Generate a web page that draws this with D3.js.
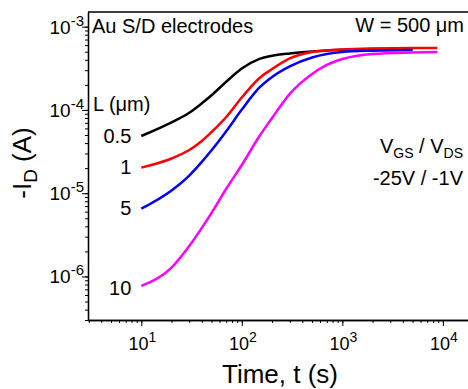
<!DOCTYPE html>
<html>
<head>
<meta charset="utf-8">
<script src="https://cdn.jsdelivr.net/npm/d3@7"></script>
<style>
  body { margin: 0; background: #fff; }
  svg { font-family: Arial, "Liberation Sans", sans-serif; }
</style>
</head>
<body>
<svg id="chart"></svg>
<script>
// time points (s)
const times = [10, 20, 30, 40, 50, 70, 100, 150, 200, 300, 500, 700, 1000, 2000, 5000, 8800];
// -I_D (A) for each channel length L (um)
const L05 = [4.86e-5, 7.08e-5, 9.24e-5, 1.20e-4, 1.50e-4, 2.18e-4, 3.14e-4, 4.10e-4, 4.47e-4, 4.77e-4, 5.04e-4, 5.18e-4, 5.28e-4, 5.40e-4, 5.47e-4];
const L1  = [2.03e-5, 2.61e-5, 3.30e-5, 4.24e-5, 5.43e-5, 8.23e-5, 1.41e-4, 2.42e-4, 3.10e-4, 4.15e-4, 4.97e-4, 5.18e-4, 5.32e-4, 5.47e-4, 5.55e-4, 5.55e-4];
const L5  = [6.52e-6, 1.08e-5, 1.63e-5, 2.38e-5, 3.28e-5, 5.55e-5, 1.01e-4, 1.86e-4, 2.49e-4, 3.34e-4, 4.27e-4, 4.70e-4, 4.97e-4, 5.15e-4, 5.25e-4];
const L10 = [7.69e-7, 1.28e-6, 2.32e-6, 3.83e-6, 5.80e-6, 1.13e-5, 2.18e-5, 4.86e-5, 8.01e-5, 1.56e-4, 2.70e-4, 3.47e-4, 4.09e-4, 4.70e-4, 4.90e-4, 4.97e-4];

const seriesNames = ["0.5", "1", "5", "10"];
const seriesColors = ["#000000", "#ff0000", "#0000ff", "#ff00ff"];
const seriesData = [L05, L1, L5, L10];
const labelShift = [7, 6, 6.5, 9];

const xTicks = [1e1, 1e2, 1e3, 1e4];
const yTicks = [1e-6, 1e-5, 1e-4, 1e-3];

const width = 468, height = 389;
const margin = {top: 12, left: 88, bottom: 69};
const plotRight = 472;

const svg = d3.select("#chart").attr("width", width).attr("height", height);

const x = d3.scaleLog().domain([2.95, 1.95e4]).range([margin.left, plotRight]);
const y = d3.scaleLog().domain([3e-7, 1.5e-3]).range([height - margin.bottom, margin.top]);

// minor tick values
function minors(lo, hi) {
  const out = [];
  for (let e = Math.floor(Math.log10(lo)); e <= Math.ceil(Math.log10(hi)); e++) {
    for (let k = 1; k < 10; k++) {
      const v = k * Math.pow(10, e);
      if (v >= lo && v <= hi) out.push(v);
    }
  }
  return out;
}

const expo = v => {
  const e = Math.round(Math.log10(v));
  return e < 0 ? "-" + (-e) : String(e);
};

// x axis
const xAxisG = svg.append("g").attr("transform", `translate(0,${height - margin.bottom})`);
xAxisG.call(d3.axisBottom(x).tickValues(minors(2.95, 1.95e4)).tickSize(3).tickSizeOuter(0).tickFormat(""));
xAxisG.append("g").call(d3.axisBottom(x).tickValues(xTicks).tickSize(6).tickSizeOuter(0).tickFormat(""));
xAxisG.selectAll("path").attr("stroke-width", 1.3);
xAxisG.selectAll("line").attr("stroke-width", 1);

xTicks.forEach(v => {
  const t = svg.append("text").attr("x", x(v) + 1).attr("y", 350)
    .attr("text-anchor", "middle").attr("font-size", 18).attr("fill", "#000");
  t.append("tspan").text("10");
  t.append("tspan").attr("font-size", 14).attr("dy", -8).text(expo(v));
});

// y axis
const yAxisG = svg.append("g").attr("transform", `translate(${margin.left},0)`);
yAxisG.call(d3.axisLeft(y).tickValues(minors(3e-7, 1.5e-3)).tickSize(3).tickSizeOuter(0).tickFormat(""));
yAxisG.append("g").call(d3.axisLeft(y).tickValues(yTicks).tickSize(6).tickSizeOuter(0).tickFormat(""));
yAxisG.selectAll("path").attr("stroke-width", 1.3);
yAxisG.selectAll("line").attr("stroke-width", 1);

yTicks.forEach(v => {
  const t = svg.append("text").attr("x", 84).attr("y", y(v) + 7)
    .attr("text-anchor", "end").attr("font-size", 19).attr("fill", "#000");
  t.append("tspan").text("10");
  t.append("tspan").attr("font-size", 15).attr("dy", -8).text(expo(v));
});

// top frame
svg.append("line").attr("x1", margin.left).attr("x2", width)
  .attr("y1", margin.top).attr("y2", margin.top)
  .attr("stroke", "#000").attr("stroke-width", 1.3);

// curves
const line = d3.line().x(d => x(d[0])).y(d => y(d[1])).curve(d3.curveMonotoneX);
seriesData.forEach((vals, i) => {
  const pts = vals.map((v, j) => [times[j], v]);
  svg.append("path").datum(pts)
    .attr("d", line)
    .attr("fill", "none")
    .attr("stroke", seriesColors[i])
    .attr("stroke-width", 2.5);
  svg.append("text")
    .attr("x", x(times[0]) - 10).attr("y", y(vals[0]) + labelShift[i])
    .attr("text-anchor", "end").attr("font-size", 20).attr("fill", "#000")
    .text(seriesNames[i]);
});

// annotations
svg.append("text").attr("x", 92).attr("y", 33).attr("font-size", 20).text("Au S/D electrodes");
svg.append("text").attr("x", 464).attr("y", 32).attr("text-anchor", "end").attr("font-size", 20).text("W = 500 μm");
svg.append("text").attr("x", 93).attr("y", 111).attr("font-size", 20).text("L (μm)");

const vt = svg.append("text").attr("x", 463).attr("y", 153).attr("text-anchor", "end").attr("font-size", 20);
vt.append("tspan").text("V");
vt.append("tspan").attr("font-size", 14).attr("dy", 5).text("GS");
vt.append("tspan").attr("dy", -5).text(" / V");
vt.append("tspan").attr("font-size", 14).attr("dy", 5).text("DS");
svg.append("text").attr("x", 463).attr("y", 185).attr("text-anchor", "end").attr("font-size", 20).text("-25V / -1V");

// axis titles
svg.append("text").attr("x", 280).attr("y", 383).attr("text-anchor", "middle").attr("font-size", 26).text("Time, t (s)");
const yl = svg.append("text").attr("transform", "translate(31,163) rotate(-90)")
  .attr("text-anchor", "middle").attr("font-size", 26);
yl.append("tspan").text("-I");
yl.append("tspan").attr("font-size", 19).attr("dy", 6).text("D");
yl.append("tspan").attr("dy", -6).text(" (A)");
</script>
</body>
</html>
